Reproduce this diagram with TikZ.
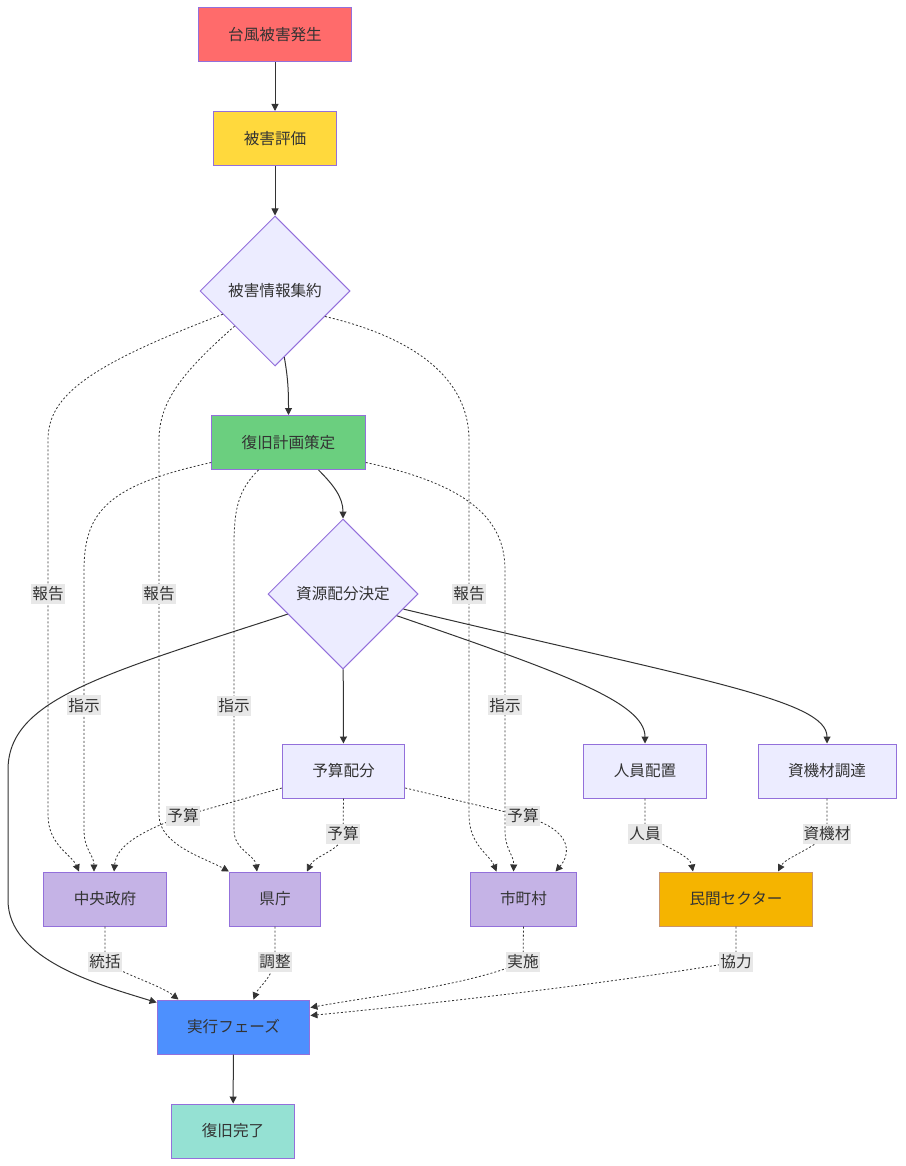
\documentclass[tikz,border=0pt]{standalone}
\usepackage{fontspec}
\newfontfamily\jpfont{Noto Sans CJK JP}
\usetikzlibrary{positioning,arrows.meta,shapes.geometric}
\definecolor{ink}{HTML}{333333}
\definecolor{rim}{HTML}{9370DB}
\definecolor{rimtan}{HTML}{C9956B}
\definecolor{cRed}{HTML}{FF6B6B}
\definecolor{cYellow}{HTML}{FFD93D}
\definecolor{cGreen}{HTML}{6BCF7F}
\definecolor{cLav}{HTML}{ECECFF}
\definecolor{cPurple}{HTML}{C5B3E6}
\definecolor{cOrange}{HTML}{F5B400}
\definecolor{cBlue}{HTML}{4D90FE}
\definecolor{cTeal}{HTML}{95E1D3}
\definecolor{tagbg}{HTML}{E8E8E8}

\begin{document}
\begin{tikzpicture}[x=1pt, y=-1pt, >={Triangle[length=7pt,width=7pt]},
  every node/.style={font=\jpfont\fontsize{15.6}{18}\selectfont, text=ink},
  box/.style={draw=rim, line width=1pt, minimum height=54pt, inner xsep=30pt, inner ysep=0pt},
  choice/.style={diamond, aspect=1, draw=rim, fill=cLav, line width=1pt, minimum width=150pt, minimum height=150pt, inner sep=0pt},
  flow/.style={->, draw=ink, line width=1pt},
  dotline/.style={->, draw=ink, line width=0.8pt, dash pattern=on 2pt off 2pt},
  tag/.style={fill=tagbg, inner xsep=1pt, inner ysep=3pt}]
  \useasboundingbox (0,0) rectangle (905,1166);

  \node[box, fill=cRed] (typhoon) at (275,35) {台風被害発生};
  \node[box, fill=cYellow] (assess) at (275,138.5) {被害評価};
  \node[choice] (gather) at (275,291) {被害情報集約};
  \node[box, fill=cGreen] (plan) at (288.5,442.5) {復旧計画策定};
  \node[choice] (alloc) at (343,594) {資源配分決定};
  \node[box, fill=cLav] (budget) at (343.5,771) {予算配分};
  \node[box, fill=cLav] (staff) at (645,771) {人員配置};
  \node[box, fill=cLav] (equip) at (827,771) {資機材調達};
  \node[box, fill=cPurple] (govt) at (105,899) {中央政府};
  \node[box, fill=cPurple] (pref) at (275,899) {県庁};
  \node[box, fill=cPurple] (city) at (523.5,899) {市町村};
  \node[box, fill=cOrange, draw=rimtan] (private) at (736,899) {民間セクター};
  \node[box, fill=cBlue] (exec) at (233.5,1027) {実行フェーズ};
  \node[box, fill=cTeal] (done) at (233,1131) {復旧完了};

  \draw[flow] (typhoon) -- (assess);
  \draw[flow] (assess) -- (gather);
  \draw[flow] (gather.-82) to[out=-80,in=90] (plan.north);
  \draw[flow] ([xshift=30pt]plan.south) to[out=-45,in=90] (alloc.north);
  \draw[flow] (alloc) -- (budget);
  \draw[flow] (alloc.-22) .. controls (560,672) and (645,702) .. (staff.north);
  \draw[flow] (alloc.-14) .. controls (700,680) and (827,700) .. (equip.north);
  \draw[flow] (alloc.200) .. controls (100,675) and (8,700) .. (8,770) -- (8,900)
    .. controls (8,960) and (100,985) .. ([yshift=-3pt]exec.north west);
  \draw[flow] (exec) -- (done);

  \draw[dotline] (gather.204) .. controls (90,365) and (48,395) .. (48,440)
    -- node[tag, pos=0.41] {報告} (48,815) .. controls (48,845) and (72,855) .. ([xshift=-26pt]govt.north);
  \draw[dotline] (gather.221) .. controls (185,370) and (159,400) .. (159,440)
    -- node[tag, pos=0.41] {報告} (159,815) .. controls (159,845) and (205,858) .. (pref.north west);
  \draw[dotline] (gather.-27) .. controls (425,340) and (469,385) .. (469,440)
    -- node[tag, pos=0.41] {報告} (469,815) .. controls (469,845) and (490,855) .. ([xshift=-27pt]city.north);

  \draw[dotline] ([yshift=-20pt]plan.west) .. controls (110,485) and (84,510) .. (84,570)
    -- node[tag, pos=0.52] {指示} (84,830) .. controls (84,850) and (94,855) .. ([xshift=-11pt]govt.north);
  \draw[dotline] ([xshift=-30pt]plan.south) .. controls (238,490) and (234,510) .. (234,545)
    -- node[tag, pos=0.565] {指示} (234,830) .. controls (234,850) and (255,855) .. ([xshift=-18pt]pref.north);
  \draw[dotline] ([yshift=-20pt]plan.east) .. controls (470,485) and (505,520) .. (505,570)
    -- node[tag, pos=0.52] {指示} (505,830) .. controls (505,850) and (514,855) .. ([xshift=-10pt]city.north);

  \draw[dotline] ([yshift=-17pt]budget.west) -- (183,816) node[tag] {予算}
    .. controls (130,835) and (116,850) .. ([xshift=9pt]govt.north);
  \draw[dotline] (budget.south) -- (343,834) node[tag] {予算}
    .. controls (343,850) and (315,855) .. ([xshift=32pt]pref.north);
  \draw[dotline] ([yshift=-17pt]budget.east) -- (523,816) node[tag] {予算}
    .. controls (575,830) and (570,855) .. ([xshift=32pt]city.north);
  \draw[dotline] (staff.south) -- (645,834) node[tag] {人員}
    .. controls (660,845) and (690,855) .. ([xshift=-43pt]private.north);
  \draw[dotline] (equip.south) -- (827,834) node[tag] {資機材}
    .. controls (815,848) and (785,858) .. ([xshift=42pt]private.north);

  \draw[dotline] (govt.south) -- (105,962) node[tag] {統括}
    .. controls (125,975) and (160,985) .. ([xshift=-55pt]exec.north);
  \draw[dotline] (pref.south) -- (275,962) node[tag] {調整}
    .. controls (270,980) and (258,988) .. ([xshift=20pt]exec.north);
  \draw[dotline] (city.south) -- (523,962) node[tag] {実施}
    .. controls (470,985) and (380,995) .. ([yshift=-8pt]exec.north east);
  \draw[dotline] (private.south) -- (736,962) node[tag] {協力}
    .. controls (600,985) and (420,1005) .. ([yshift=-16pt]exec.north east);
\end{tikzpicture}
\end{document}
